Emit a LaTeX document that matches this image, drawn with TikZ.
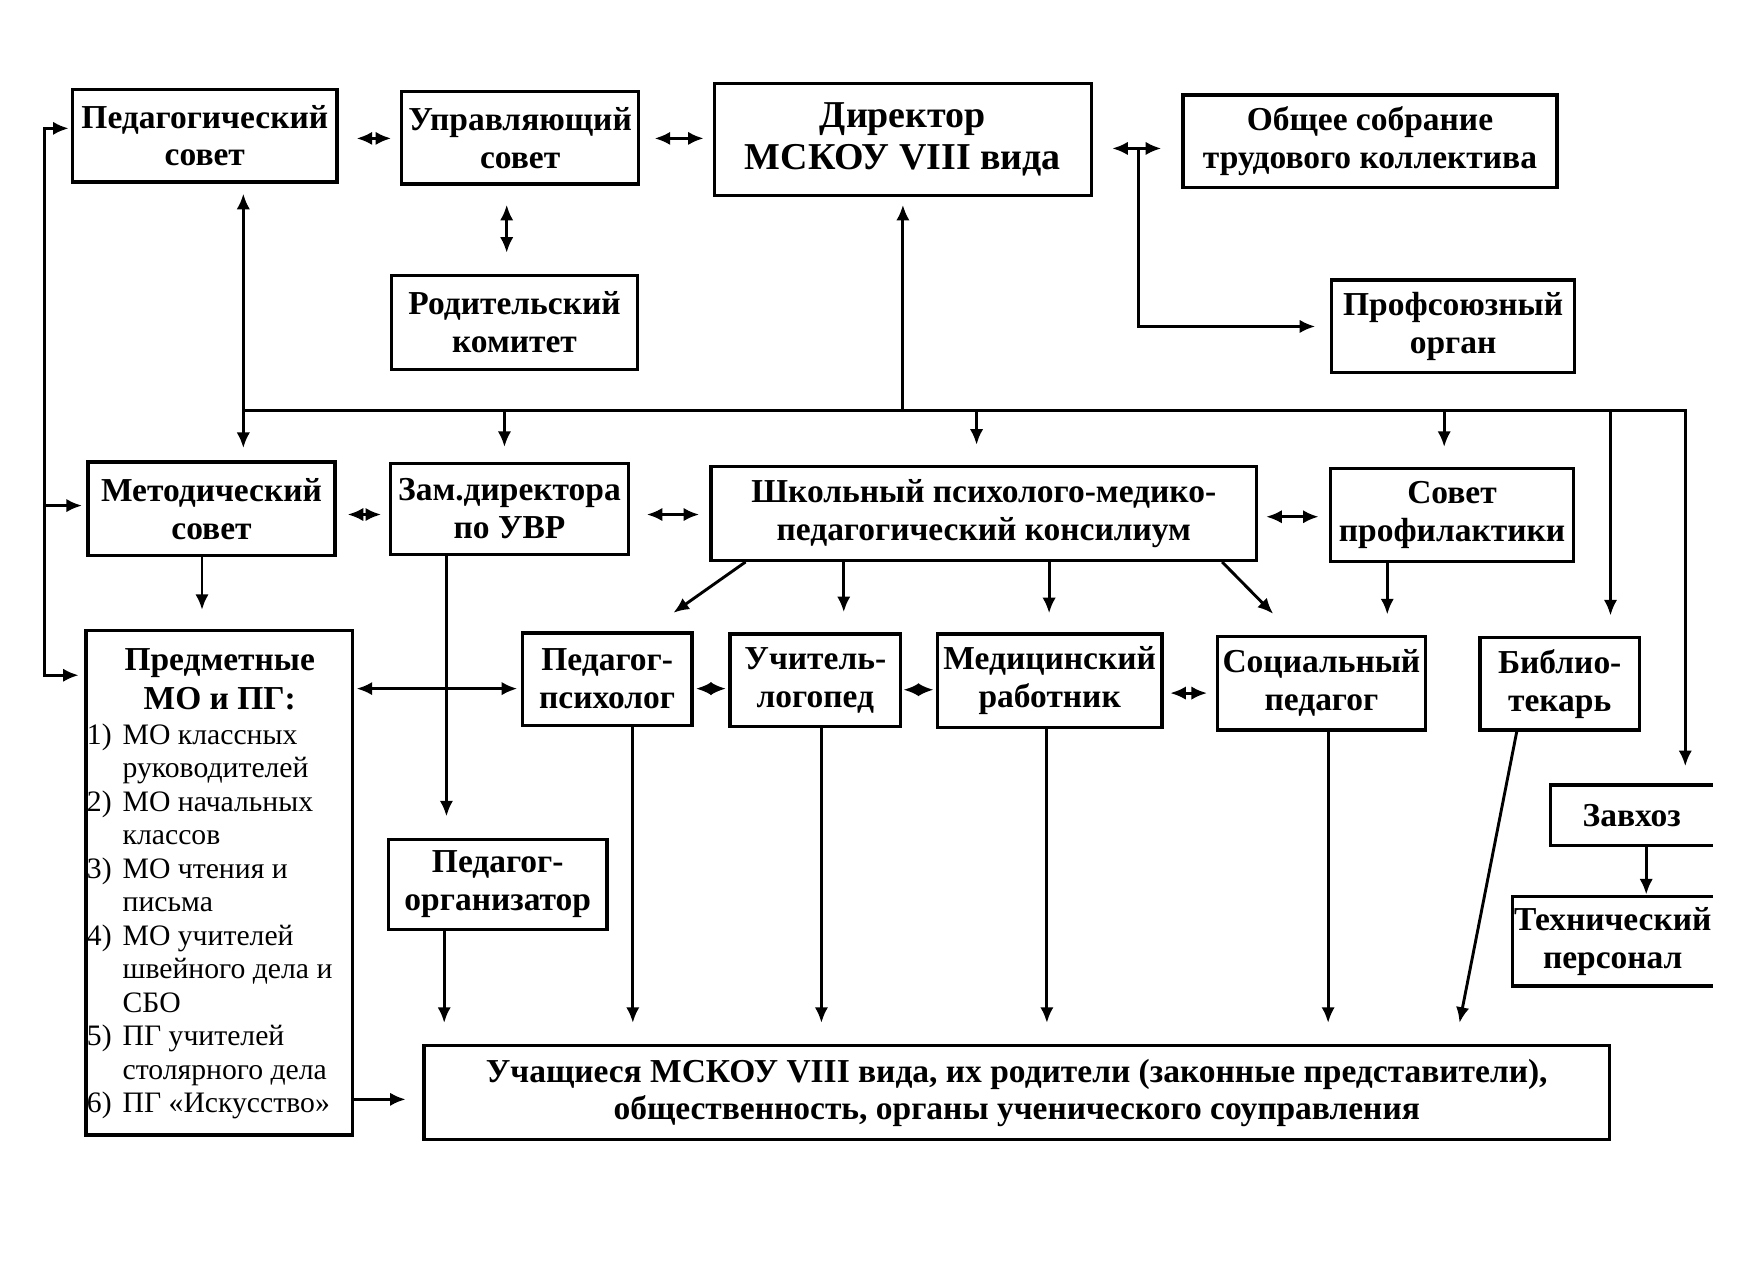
\documentclass[tikz,border=0pt]{standalone}
\usepackage{fontspec}
\setmainfont{Liberation Serif}
\usetikzlibrary{arrows.meta}
\tikzset{
  box/.style={draw, line width=1.5pt, inner sep=0pt, align=center, font=\bfseries\fontsize{15}{17}\selectfont},
  ln/.style={line width=1.3pt, line join=miter},
  arr/.style={ln, -{Latex[length=7pt,width=6pt]}},
  darr/.style={ln, {Latex[length=7pt,width=6pt]}-{Latex[length=7pt,width=6pt]}},
}
\newcommand\mkbox[7][]{\node[box,#1,minimum width={(#5-#3)*0.5pt},minimum height={(#6-#4)*0.5pt}] (#2) at ({(#3+#5)/2},{(#4+#6)/2}) {#7};}
\begin{document}
\begin{tikzpicture}[x=0.5pt,y=-0.5pt]
\useasboundingbox[fill=white] (0,0) rectangle (1568,1142);
% boxes
\mkbox{ped}{65}{80}{302}{163}{Педагогический\\совет}
\mkbox{upr}{360}{82}{572}{165}{Управляющий\\совет}
\mkbox[font=\bfseries\fontsize{17}{19}\selectfont]{dir}{640}{75}{978}{175}{Директор\\МСКОУ VIII вида}
\mkbox{obs}{1060}{85}{1395}{168}{Общее собрание\\трудового коллектива}
\mkbox{rod}{351}{247}{571}{331}{Родительский\\комитет}
\mkbox{prof}{1193}{251}{1411}{334}{Профсоюзный\\орган}
\mkbox{met}{79}{414}{300}{498}{Методический\\совет}
\mkbox{zam}{350}{415}{563}{497}{Зам.директора\\по УВР}
\mkbox{shk}{637}{418}{1126}{502}{Школьный психолого-медико-\\педагогический консилиум}
\mkbox{sov}{1192}{420}{1410}{503}{Совет\\профилактики}
\mkbox{pred}{77}{565}{316}{1017}{}
\mkbox{psy}{468}{567}{620}{650}{Педагог-\\психолог}
\mkbox{log}{654}{568}{807}{651}{Учитель-\\логопед}
\mkbox{med}{840}{568}{1041}{652}{Медицинский\\работник}
\mkbox{soc}{1091}{570}{1277}{654}{Социальный\\педагог}
\mkbox{bib}{1326}{571}{1469}{654}{Библио-\\текарь}
\mkbox[draw=none]{zav}{1391}{705}{1533}{756}{Завхоз}
\mkbox[draw=none]{tech}{1357}{805}{1533}{882}{Технический\\персонал}
\mkbox{porg}{348}{752}{544}{833}{Педагог-\\организатор}
\mkbox[font=\bfseries\fontsize{15}{16.5}\selectfont]{uch}{380}{937}{1442}{1021}{Учащиеся МСКОУ VIII вида, их родители (законные представители),\\общественность, органы ученического соуправления}
\draw[line width=1.5pt] (zav.north east) -- (zav.north west) -- (zav.south west) -- (zav.south east);
\draw[line width=1.5pt] (tech.north east) -- (tech.north west) -- (tech.south west) -- (tech.south east);
% list text
\node[anchor=north west, inner sep=0pt, font=\fontsize{13.3}{15}\selectfont] (predtxt) at ([xshift=1pt,yshift=-8pt]pred.north west) {%
\begin{tabular}{@{}p{16pt}@{}p{103pt}@{}}
\multicolumn{2}{@{}c@{}}{\bfseries\fontsize{15}{17}\selectfont Предметные}\\[2.5pt]
\multicolumn{2}{@{}c@{}}{\bfseries\fontsize{15}{17}\selectfont МО и ПГ:}\\[0.5pt]
1) & МО классных\\
   & руководителей\\
2) & МО начальных\\
   & классов\\
3) & МО чтения и\\
   & письма\\
4) & МО учителей\\
   & швейного дела и\\
   & СБО\\
5) & ПГ учителей\\
   & столярного дела\\
6) & ПГ «Искусство»
\end{tabular}};
% top row
\draw[darr, shorten <=8pt, shorten >=4pt] (ped.east |- 0,124) -- (upr.west |- 0,124);
\draw[darr, shorten <=6.5pt, shorten >=4pt] (upr.east |- 0,124) -- (dir.west |- 0,124);
\draw[darr, shorten <=8.5pt, shorten >=9pt] (dir.east |- 0,133) -- (obs.west |- 0,133);
\coordinate (j1) at (1020,133);
\draw[arr, shorten >=6.5pt] (j1) |- (prof.west);
\draw[darr, shorten <=8.5pt, shorten >=9.5pt] (upr.south -| 454,0) -- (rod.north -| 454,0);
\draw[darr, shorten <=4.5pt, shorten >=5.5pt] (ped.south -| 218,0) -- (met.north -| 218,0);
% bus
\coordinate (busL) at (218,368);
\coordinate (busR) at (1510,368);
\draw[arr, shorten >=8.5pt] (busL) -- (busR) -- (zav.north -| busR);
\draw[arr, shorten >=3.5pt] (busL -| dir.south) -- (dir.south);
\draw[arr, shorten >=6.5pt] (busL -| 452,0) -- (zam.north -| 452,0);
\draw[arr, shorten >=9pt] (busL -| 875,0) -- (shk.north -| 875,0);
\draw[arr, shorten >=9pt] (busL -| 1294,0) -- (sov.north -| 1294,0);
\draw[arr, shorten >=9pt] (busL -| 1443,0) -- (bib.north -| 1443,0);
% left line
\coordinate (lt) at (40,115);
\coordinate (lb) at (40,605);
\draw[darr, shorten <=1pt, shorten >=2.5pt] (ped.west |- lt) -- (lt) -- (lb) -- (pred.west |- lb);
\draw[arr, shorten >=2pt] (lt |- 0,453) -- (met.west |- 0,453);
% middle row
\draw[darr, shorten <=5pt, shorten >=3.5pt] (met.east |- 0,461) -- (zam.west |- 0,461);
\draw[darr, shorten <=7.5pt, shorten >=4.5pt] (zam.east |- 0,461) -- (shk.west |- 0,461);
\draw[darr, shorten <=3.5pt, shorten >=4.5pt] (shk.east |- 0,463) -- (sov.west |- 0,463);
\draw[arr, shorten >=8.5pt] (met.south -| 181,0) -- (pred.north -| 181,0);
\draw[arr, shorten >=9.5pt] (zam.south -| 400,0) -- (porg.north -| 400,0);
% from consilium
\draw[arr, shorten >=14.3pt] (shk.south -| 668,0) -- (psy.north -| 580,0);
\draw[arr, shorten >=9pt] (shk.south -| 756,0) -- (log.north -| 756,0);
\draw[arr, shorten >=8.5pt] (shk.south -| 940,0) -- (med.north -| 940,0);
\draw[arr, shorten >=13pt] (shk.south -| 1095,0) -- (soc.north -| 1159,0);
\draw[arr, shorten >=9pt] (sov.south -| 1243,0) -- (soc.north -| 1243,0);
% specialists row
\draw[darr, shorten <=1pt, shorten >=1.5pt] (pred.east |- 0,617) -- (psy.west |- 0,617);
\draw[darr, shorten <=1pt, shorten >=1pt] (psy.east |- 0,617) -- (log.west |- 0,617);
\draw[darr, shorten <=0.5pt, shorten >=1pt] (log.east |- 0,618) -- (med.west |- 0,618);
\draw[darr, shorten <=3pt, shorten >=4pt] (med.east |- 0,621) -- (soc.west |- 0,621);
% to students
\draw[arr, shorten >=9.5pt] (psy.south -| 567,0) -- (uch.north -| 567,0);
\draw[arr, shorten >=9.5pt] (log.south -| 736,0) -- (uch.north -| 736,0);
\draw[arr, shorten >=9.5pt] (med.south -| 938,0) -- (uch.north -| 938,0);
\draw[arr, shorten >=9.5pt] (soc.south -| 1190,0) -- (uch.north -| 1190,0);
\draw[arr, shorten >=9.7pt] (bib.south -| 1359,0) -- (uch.north -| 1304,0);
\draw[arr, shorten >=9.5pt] (porg.south -| 398,0) -- (uch.north -| 398,0);
\draw[arr, shorten >=7.5pt] (pred.east |- 0,985) -- (uch.west |- 0,985);
\draw[arr, shorten >=1pt] (zav.south -| 1475,0) -- (tech.north -| 1475,0);
\end{tikzpicture}
\end{document}
